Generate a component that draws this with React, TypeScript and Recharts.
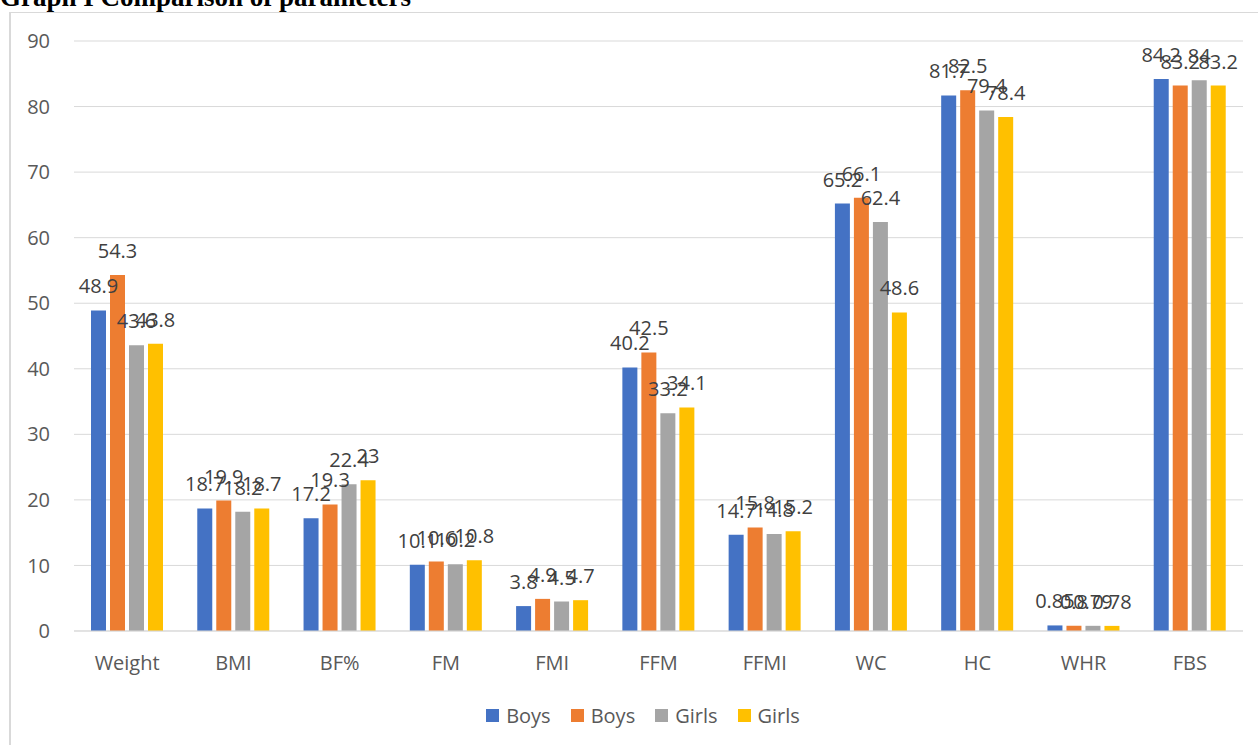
import React from 'react';
import { BarChart, Bar, XAxis, YAxis, CartesianGrid, Legend, LabelList } from 'recharts';

const categories = ['Weight', 'BMI', 'BF%', 'FM', 'FMI', 'FFM', 'FFMI', 'WC', 'HC', 'WHR', 'FBS'];
const boys1 = [48.9, 18.7, 17.2, 10.1, 3.8, 40.2, 14.7, 65.2, 81.7, 0.85, 84.2];
const boys2 = [54.3, 19.9, 19.3, 10.6, 4.9, 42.5, 15.8, 66.1, 82.5, 0.8, 83.2];
const girls1 = [43.6, 18.2, 22.4, 10.2, 4.5, 33.2, 14.8, 62.4, 79.4, 0.79, 84];
const girls2 = [43.8, 18.7, 23, 10.8, 4.7, 34.1, 15.2, 48.6, 78.4, 0.78, 83.2];
const yTicks = [0, 10, 20, 30, 40, 50, 60, 70, 80, 90];

const seriesDefs = [
  { key: 'boys1', name: 'Boys', color: '#4472C4' },
  { key: 'boys2', name: 'Boys', color: '#ED7D31' },
  { key: 'girls1', name: 'Girls', color: '#A5A5A5' },
  { key: 'girls2', name: 'Girls', color: '#FFC000' },
];

const data = categories.map((c, i) => ({
  name: c,
  boys1: boys1[i],
  boys2: boys2[i],
  girls1: girls1[i],
  girls2: girls2[i],
}));

const FONT = '"Open Sans", sans-serif';

const renderLegend = () => (
  <div style={{ display: 'flex', justifyContent: 'center', alignItems: 'center', fontFamily: FONT, fontSize: 20, color: '#595959', paddingLeft: 28 }}>
    {seriesDefs.map((s, i) => (
      <div key={i} style={{ display: 'flex', alignItems: 'center', marginRight: i < seriesDefs.length - 1 ? 20 : 0 }}>
        <div style={{ width: 13, height: 13, background: s.color, marginRight: 7 }} />
        <span>{s.name}</span>
      </div>
    ))}
  </div>
);

export default function App() {
  return (
    <div style={{ position: 'absolute', left: 0, top: 0, width: 1258, height: 745, overflow: 'hidden', background: '#fff' }}>
      <div style={{ position: 'absolute', left: 9, top: 12, width: 1260, height: 740, borderLeft: '2px solid #d9d9d9', borderTop: '1px solid #d9d9d9' }} />
      <div style={{ position: 'absolute', left: 0, top: -16, fontFamily: '"Liberation Serif", "Times New Roman", serif', fontWeight: 'bold', fontSize: 27, lineHeight: '27px', color: '#000', whiteSpace: 'nowrap' }}>
        Graph I Comparison of parameters
      </div>
      <div style={{ position: 'absolute', left: 0, top: 0 }}>
        <BarChart
          width={1258}
          height={745}
          data={data}
          margin={{ top: 41, right: 15, bottom: 114 - 46, left: 0 }}
          barSize={15}
          barGap={4}
        >
          <CartesianGrid vertical={false} stroke="#d9d9d9" strokeWidth={1} />
          <XAxis
            dataKey="name"
            height={46}
            tickLine={false}
            tickSize={0}
            tickMargin={25}
            axisLine={{ stroke: '#d9d9d9' }}
            tick={{ fill: '#595959', fontSize: 20, fontFamily: FONT }}
            interval={0}
          />
          <YAxis
            width={74}
            domain={[0, 90]}
            ticks={yTicks}
            interval={0}
            tickLine={false}
            axisLine={false}
            tickSize={0}
            tickMargin={24}
            tick={{ fill: '#595959', fontSize: 20, fontFamily: FONT }}
          />
          <Legend
            content={renderLegend}
            verticalAlign="middle"
            align="center"
            layout="horizontal"
            wrapperStyle={{ top: 702, left: 0, width: 1258 }}
          />
          {seriesDefs.map((s) => (
            <Bar key={s.key} dataKey={s.key} name={s.name} fill={s.color} isAnimationActive={false}>
              <LabelList
                dataKey={s.key}
                position="top"
                offset={17}
                fill="#404040"
                fontSize={20}
                fontFamily={FONT}
              />
            </Bar>
          ))}
        </BarChart>
      </div>
    </div>
  );
}
